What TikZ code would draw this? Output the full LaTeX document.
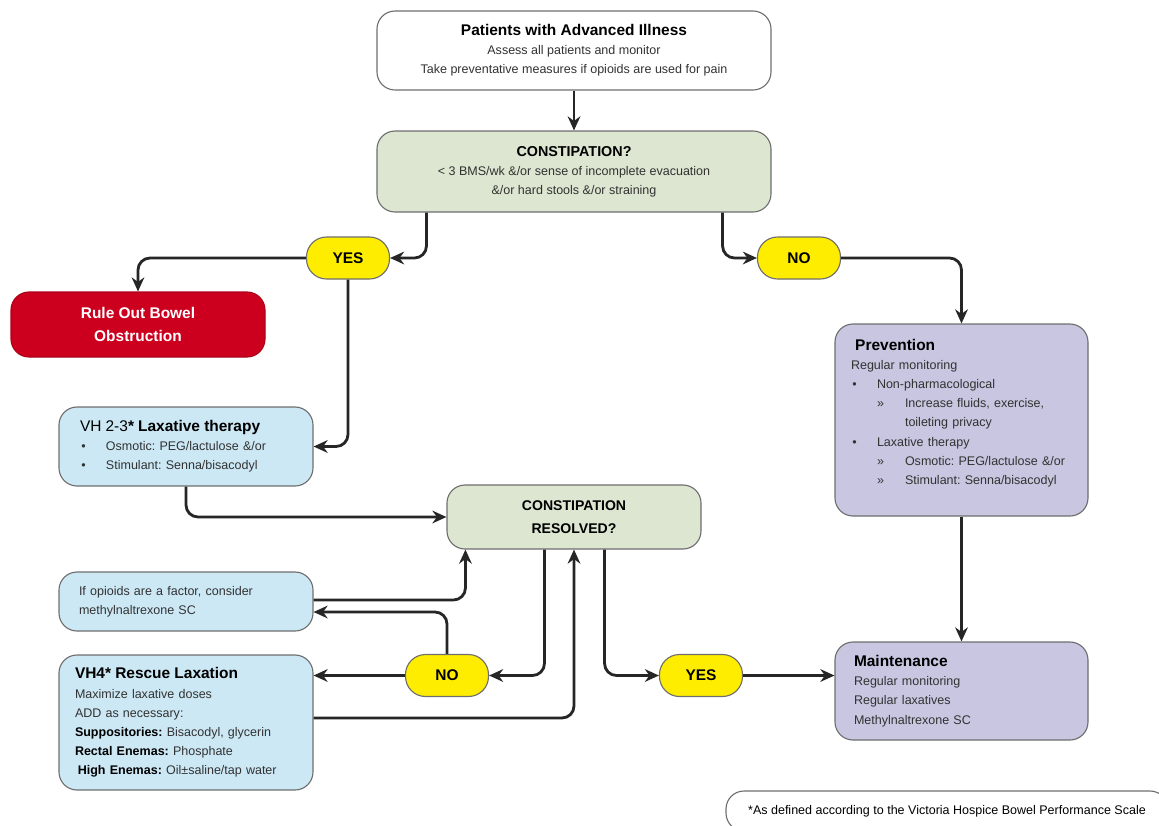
\documentclass[tikz,border=0pt]{standalone}
\usepackage{fontspec}
\setmainfont{Liberation Sans}
\usetikzlibrary{arrows.meta,calc}

\definecolor{boxgreen}{RGB}{220,230,208}
\definecolor{boxblue}{RGB}{204,232,245}
\definecolor{boxlilac}{RGB}{200,198,224}
\definecolor{boxred}{RGB}{204,0,30}
\definecolor{pillyellow}{RGB}{255,237,0}
\definecolor{edgegray}{RGB}{110,110,110}
\definecolor{txtgray}{RGB}{50,50,50}

\def\pxu{0.025cm}
\newcommand\bodyfont{\fontsize{8.9}{13.6}\selectfont}
\newcommand\ttl[1]{{\fontsize{11}{13.6}\selectfont\bfseries\color{black}#1}}
\newcommand\bul{\makebox[0.65cm][l]{\hspace{1pt}\textbullet}}
\newcommand\subbul{\hspace*{0.65cm}\makebox[0.7cm][l]{»}}
\frenchspacing

\begin{document}
\begin{tikzpicture}[x=\pxu, y=-\pxu,
    every node/.style={font=\bodyfont, text=txtgray},
    box/.style={draw=edgegray, line width=0.8pt, rounded corners=0.45cm, inner sep=0pt},
    pill/.style={draw=edgegray, line width=0.8pt, fill=pillyellow, rounded corners=0.5cm,
      minimum width=83*\pxu, minimum height=42*\pxu, font=\fontsize{11}{12}\selectfont\bfseries, text=black},
    arr/.style={-{Stealth[length=10pt,width=9pt]}, line width=2pt, draw=black!85, rounded corners=0.3cm}]
  \useasboundingbox (0,0) rectangle (1159,825);

  % top of the chart
  \node[box, fill=white, minimum width=394*\pxu, minimum height=79*\pxu, align=center] (patients) at (574,50.5)
    {\ttl{Patients with Advanced Illness}\\ Assess all patients and monitor\\ Take preventative measures if opioids are used for pain};
  \node[box, fill=boxgreen, minimum width=394*\pxu, minimum height=81*\pxu, align=center] (cons) at (574,171.5)
    {{\fontsize{10.2}{13.6}\selectfont\bfseries\color{black}CONSTIPATION?}\\ < 3 BMS/wk \&/or sense of incomplete evacuation\\ \&/or hard stools \&/or straining};

  \node[pill] (yesA) at (348,258) {YES};
  \node[pill] (noA) at (799,258) {NO};

  % left branch
  \node[box, fill=boxred, draw=boxred!85!black, minimum width=254*\pxu, minimum height=65*\pxu, align=center,
    text=white, font=\fontsize{11}{16.3}\selectfont\bfseries] (ruleout) at (138,324.5) {Rule Out Bowel\\Obstruction};
  \node[box, fill=boxblue, minimum width=254*\pxu, minimum height=79*\pxu, text width=212*\pxu, align=left] (laxative) at (186,446.5)
    {{\fontsize{11}{13.6}\selectfont\color{black}VH 2-3\textbf{* Laxative therapy}}\\
     \bul Osmotic: PEG/lactulose \&/or\\
     \bul Stimulant: Senna/bisacodyl};
  \node[box, fill=boxgreen, minimum width=254*\pxu, minimum height=64*\pxu, align=center,
    text=black, font=\fontsize{10}{16.3}\selectfont\bfseries] (resolved) at (574,517) {CONSTIPATION\\RESOLVED?};
  \node[box, fill=boxblue, minimum width=254*\pxu, minimum height=59*\pxu, text width=214*\pxu, align=left] (opioid) at (186,601.5)
    {If opioids are a factor, consider\\ methylnaltrexone SC};
  \node[box, fill=boxblue, minimum width=254*\pxu, minimum height=135*\pxu, text width=222*\pxu, align=left] (vh4) at (186,722.5)
    {\ttl{VH4* Rescue Laxation}\\
     Maximize laxative doses\\
     ADD as necessary:\\
     \textbf{\color{black}Suppositories:} Bisacodyl, glycerin\\
     \textbf{\color{black}Rectal Enemas:} Phosphate\\
     \hspace*{2pt}\textbf{\color{black}High Enemas:} Oil±saline/tap water};
  \node[pill] (noB) at (447,675.5) {NO};
  \node[pill] (yesB) at (701,675.5) {YES};

  % right branch
  \node[box, fill=boxlilac, minimum width=253*\pxu, minimum height=192*\pxu, text width=221*\pxu, align=left] (prevention) at (961.5,420)
    {\ttl{\hspace*{3pt}Prevention}\\
     Regular monitoring\\
     \bul Non-pharmacological\\
     \subbul Increase fluids, exercise,\\
     \hspace*{1.35cm}toileting privacy\\
     \bul Laxative therapy\\
     \subbul Osmotic: PEG/lactulose \&/or\\
     \subbul Stimulant: Senna/bisacodyl\par\vspace*{0.35cm}};
  \node[box, fill=boxlilac, minimum width=253*\pxu, minimum height=98*\pxu, text width=215*\pxu, align=left] (maintenance) at (961.5,691)
    {\ttl{Maintenance}\\ Regular monitoring\\ Regular laxatives\\ Methylnaltrexone SC};

  \node[box, fill=white, minimum width=442*\pxu, minimum height=40*\pxu, text=black] (footnote) at (947,811)
    {*As defined according to the Victoria Hospice Bowel Performance Scale};

  % connectors
  \draw[arr] (patients) -- (cons);
  \draw[arr] ($(cons.south west)+(50,0)$) |- (yesA.east);
  \draw[arr] ($(cons.south east)+(-49,0)$) |- (noA.west);
  \draw[arr] (yesA.west) -| (ruleout.north);
  \draw[arr] (yesA.south) |- (laxative.east);
  \draw[arr] (noA.east) -| (prevention.north);
  \draw[arr] (prevention) -- (maintenance);
  \draw[arr] (laxative.south) |- (resolved.west);
  \draw[arr] ($(opioid.east)+(0,-1.5)$) -| ($(resolved.south west)+(19,0)$);
  \draw[arr] (noB.north) |- ($(opioid.east)+(0,10.5)$);
  \draw[arr] (noB.west) -- (noB.west -| vh4.east);
  \draw[arr] ($(resolved.south west)+(98,0)$) |- (noB.east);
  \draw[arr] ($(vh4.east)+(0,-4.5)$) -| (resolved.south);
  \draw[arr] ($(resolved.south east)+(-97,0)$) |- (yesB.west);
  \draw[arr] (yesB.east) -- (yesB.east -| maintenance.west);
\end{tikzpicture}
\end{document}
